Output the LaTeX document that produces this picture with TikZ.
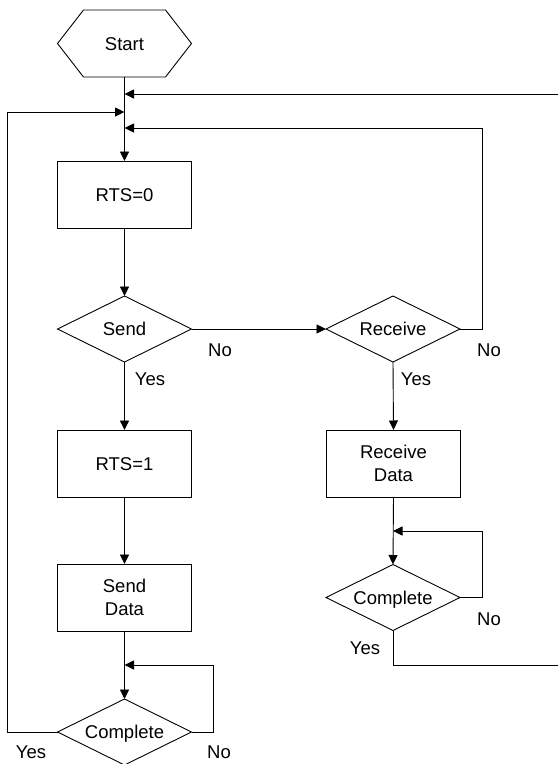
\documentclass[tikz,border=0pt]{standalone}
\usepackage{fontspec}
\setmainfont{Liberation Sans}
\usetikzlibrary{arrows.meta,shapes.geometric}
\begin{document}
\begin{tikzpicture}[x=1pt,y=-1pt,
  every node/.style={font=\fontsize{18.5}{22.5}\selectfont, outer sep=0pt},
  box/.style={draw, line width=0.9pt, minimum width=134pt, minimum height=67pt, inner sep=0pt, align=center},
  dec/.style={draw, diamond, line width=0.9pt, aspect=2, minimum width=134pt, minimum height=66pt, inner sep=0pt, text height=13.2pt, text depth=0pt},
  one/.style={text height=13.2pt, text depth=0pt},
  lbl/.style={inner sep=0pt, text height=13.2pt, text depth=0pt},
  flow/.style={line width=0.9pt, -{Triangle[length=9.5pt,width=9pt]}},
  wire/.style={line width=0.9pt}
]
\useasboundingbox (0,0) rectangle (558,764);

% nodes
\node[minimum width=134pt, minimum height=67pt, inner sep=0pt, one] (start) at (124.5,43.5) {Start};
\draw[wire] (start.west) -- ([xshift=26pt]start.north west) -- ([xshift=-26pt]start.north east) -- (start.east) -- ([xshift=-26pt]start.south east) -- ([xshift=26pt]start.south west) -- cycle;

\node[box, one] (rts0) at (124.5,194.5) {RTS=0};
\node[dec] (send) at (124.5,329) {Send};
\node[dec] (recv) at (393,329) {Receive};
\node[box, one] (rts1) at (124.5,463.5) {RTS=1};
\node[box] (rdata) at (393.5,463.5) {Receive\\Data};
\node[box] (sdata) at (124.5,597.5) {Send\\Data};
\node[dec] (compR) at (393,597.5) {Complete};
\node[dec] (compL) at (124.5,732) {Complete};

% labels
\node[lbl] (l1) at (220,350) {No};
\node[lbl] (l2) at (150,379) {Yes};
\node[lbl] (l3) at (489,350) {No};
\node[lbl] (l4) at (416,379) {Yes};
\node[lbl] (l5) at (365,648) {Yes};
\node[lbl] (l6) at (489,619) {No};
\node[lbl] (l7) at (31,752) {Yes};
\node[lbl] (l8) at (219,752) {No};

% coordinates
\coordinate (j1) at (124.5,94);
\coordinate (j2) at (124.5,112);
\coordinate (j3) at (124.5,128);
\coordinate (e1) at (558,94);
\coordinate (e2) at (558,665);
\coordinate (L1) at (7,732);
\coordinate (L2) at (7,112);
\coordinate (R1) at (482,329);
\coordinate (R2) at (482,128);
\coordinate (C1) at (213,732);
\coordinate (C2) at (213,665);
\coordinate (j4) at (124.5,665);
\coordinate (D1) at (482,597.5);
\coordinate (D2) at (482,531);
\coordinate (j5) at (393,531);
\coordinate (Y1) at (393,665);

% connectors
\draw[flow] (start.south) -- (rts0.north);
\draw[flow] (e1) -- (j1);
\draw[flow] (compL.west) -- (L1) -- (L2) -- (j2);
\draw[flow] (recv.east) -- (R1) -- (R2) -- (j3);
\draw[flow] (rts0.south) -- (send.north);
\draw[flow] (send.east) -- (recv.west);
\draw[flow] (send.south) -- (rts1.north);
\draw[flow] (rts1.south) -- (sdata.north);
\draw[flow] (sdata.south) -- (compL.north);
\draw[flow] (compL.east) -- (C1) -- (C2) -- (j4);
\draw[flow] (recv.south) -- (rdata.north);
\draw[flow] (rdata.south) -- (compR.north);
\draw[flow] (compR.east) -- (D1) -- (D2) -- (j5);
\draw[wire] (compR.south) -- (Y1) -- (e2);
\end{tikzpicture}
\end{document}
